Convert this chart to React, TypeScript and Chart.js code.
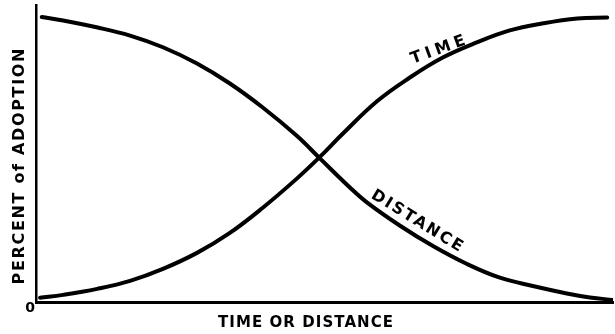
import React, { useEffect, useRef } from "react";
import { Chart, registerables } from "chart.js";

Chart.register(...registerables);

// Rising curve ("TIME")
const timeX = [0.7, 4.7, 10.6, 16.3, 22.0, 27.9, 33.6, 39.3, 45.2, 49.2, 53.2, 59.1, 64.8, 70.5, 76.4, 82.1, 87.9, 93.8, 99.0];
const timeY = [1.5, 2.5, 4.6, 7.4, 11.6, 17.2, 24.2, 33.0, 43.2, 50.8, 59.0, 70.3, 78.6, 85.6, 90.9, 95.1, 97.6, 99.3, 99.6];

// Falling curve ("DISTANCE")
const distX = [1.0, 4.7, 10.5, 16.3, 22.0, 27.9, 33.6, 39.3, 45.2, 49.2, 54.4, 57.4, 63.1, 68.8, 74.7, 80.4, 86.1, 92.0, 96.0, 100];
const distY = [99.8, 98.6, 96.2, 93.3, 89.2, 83.5, 76.5, 68.1, 58.2, 50.3, 40.1, 34.8, 26.7, 19.6, 13.3, 8.5, 5.6, 3.0, 1.6, 0.7];

const xTitle = "TIME OR DISTANCE";
const yTitle = "PERCENT of ADOPTION";
const originLabel = "0";
const timeLabel = "TIME";
const distLabel = "DISTANCE";

// label anchor positions in data units
const timeLabelPos = { x: 69.7, y: 88.2 };
const distLabelPos = { x: 66.0, y: 28.3 };

const FONT = '"DejaVu Sans", sans-serif';

function drawSpaced(
  ctx: CanvasRenderingContext2D,
  text: string,
  cx: number,
  cy: number,
  angle: number,
  size: number,
  target: number
) {
  ctx.save();
  ctx.font = `bold ${size}px ${FONT}`;
  (ctx as any).letterSpacing = "0px";
  const w0 = ctx.measureText(text).width;
  const n = text.length;
  const s = n > 1 ? (target - w0) / (n - 1) : 0;
  (ctx as any).letterSpacing = `${s}px`;
  ctx.translate(cx, cy);
  ctx.rotate((angle * Math.PI) / 180);
  ctx.textAlign = "left";
  ctx.textBaseline = "middle";
  ctx.fillStyle = "#000";
  ctx.fillText(text, -target / 2, 0);
  ctx.restore();
}

const labelPlugin = {
  id: "labels",
  afterDraw(chart: any) {
    const ctx = chart.ctx as CanvasRenderingContext2D;
    const xs = chart.scales.x;
    const ys = chart.scales.y;
    const area = chart.chartArea;
    // axis titles
    drawSpaced(ctx, yTitle, 20, (area.top + area.bottom) / 2 + 13, -90, 16, 236);
    drawSpaced(ctx, xTitle, (area.left + area.right) / 2 - 19, 323, 0, 15, 175);
    // origin tick
    ctx.save();
    ctx.font = `bold 14px ${FONT}`;
    ctx.textAlign = "center";
    ctx.textBaseline = "middle";
    ctx.fillStyle = "#000";
    ctx.fillText(originLabel, xs.getPixelForValue(0) - 6, ys.getPixelForValue(0) + 6);
    ctx.restore();
    // curve labels
    drawSpaced(ctx, timeLabel, xs.getPixelForValue(timeLabelPos.x), ys.getPixelForValue(timeLabelPos.y), -20, 16, 57);
    drawSpaced(ctx, distLabel, xs.getPixelForValue(distLabelPos.x), ys.getPixelForValue(distLabelPos.y), 31.5, 16, 104);
  },
};

export default function App() {
  const ref = useRef<HTMLCanvasElement>(null);
  useEffect(() => {
    const canvas = ref.current;
    if (!canvas) return;
    const chart = new Chart(canvas, {
      type: "line",
      data: {
        datasets: [
          {
            label: timeLabel,
            data: timeX.map((x, i) => ({ x, y: timeY[i] })),
            borderColor: "#000",
            borderWidth: 4,
            pointRadius: 0,
            tension: 0.4,
            borderCapStyle: "round",
            fill: false,
          },
          {
            label: distLabel,
            data: distX.map((x, i) => ({ x, y: distY[i] })),
            borderColor: "#000",
            borderWidth: 4,
            pointRadius: 0,
            tension: 0.4,
            borderCapStyle: "round",
            fill: false,
          },
        ],
      },
      options: {
        animation: false,
        responsive: false,
        maintainAspectRatio: false,
        layout: { padding: { left: 36, right: 2, top: 5, bottom: 32 } },
        plugins: { legend: { display: false }, tooltip: { enabled: false } },
        scales: {
          x: {
            type: "linear",
            min: 0,
            max: 100,
            grid: { display: false, drawTicks: false },
            ticks: { display: false },
            border: { display: true, color: "#000", width: 3 },
          },
          y: {
            type: "linear",
            min: 0,
            max: 104,
            grid: { display: false, drawTicks: false },
            ticks: { display: false },
            border: { display: true, color: "#000", width: 2.5 },
          },
        },
      },
      plugins: [labelPlugin],
    });
    return () => chart.destroy();
  }, []);
  return (
    <div style={{ position: "fixed", left: 0, top: 0, width: 615, height: 334, background: "#fff" }}>
      <canvas ref={ref} width={615} height={334} style={{ display: "block" }} />
    </div>
  );
}
